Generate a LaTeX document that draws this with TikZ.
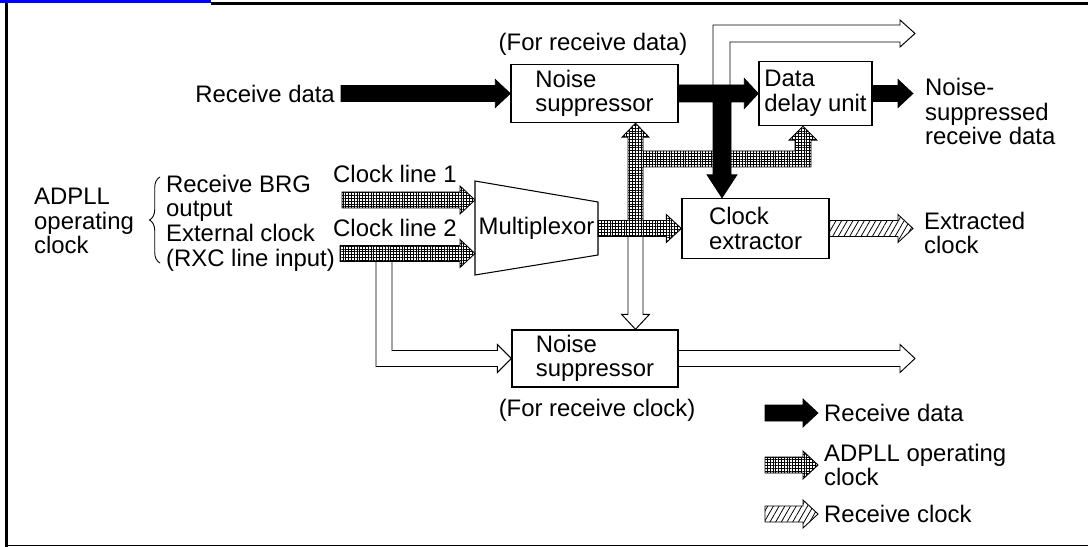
\documentclass[tikz,border=0pt]{standalone}
\usepackage{fontspec}
\setmainfont{Liberation Sans}
\usetikzlibrary{calc,patterns.meta,decorations.pathreplacing}

% right-pointing block arrow, style #1, from #2 to the tip #3
\newcommand{\blockarrow}[3]{%
  \path[#1] ($(#2 |- #3)+(0,-8)$) -- ($(#3)+(-15,-8)$) -- ($(#3)+(-15,-14)$) -- (#3)
    -- ($(#3)+(-15,14)$) -- ($(#3)+(-15,8)$) -- ($(#2 |- #3)+(0,8)$) -- cycle;}

\begin{document}
\begin{tikzpicture}[x=0.02cm, y=-0.02cm,
    font=\fontsize{13.6}{14}\selectfont,
    box/.style={draw, line width=0.8pt, align=left, inner sep=2pt},
    datafill/.style={fill=black, draw=black, line width=0.4pt},
    clkfill/.style={draw=black, line width=0.5pt, pattern={Hatch[distance=1.6pt, line width=0.5pt]}},
    rxcfill/.style={draw=black, line width=0.5pt, pattern={Lines[angle=60, distance=2.8pt, line width=0.45pt]}},
    hollow/.style={draw=black, line width=0.55pt}]
    \useasboundingbox (0,0) rectangle (1088,547);
    % frame
    \draw[blue, line width=1.7pt] (0,1.5) -- (211,1.5);
    \draw[line width=1.7pt] (211,3.3) -- (1088,3.3);
    \draw[line width=1.7pt] (6.5,3) -- (6.5,546.5);
    \draw[line width=0.9pt] (5.6,545.5) -- (1088,545.5);

    % blocks
    \node[anchor=east] (rdin) at (341,93.5) {Receive data};
    \node (fordata) at (593,44) {(For receive data)};
    \node[box, minimum width=3.34cm, minimum height=1.16cm] (nsd) at (594.5,93.5) {Noise\\suppressor};
    \node[box, minimum width=2.26cm, minimum height=1.28cm] (dd) at (815.5,93.5) {Data\\delay unit};
    \node[anchor=west, align=left] (rdoutlbl) at (919,111.5) {Noise-\\suppressed\\receive data};
    \node[box, minimum width=2.94cm, minimum height=1.2cm] (ce) at (755.5,228.5) {Clock\\extractor};
    \node[anchor=west, align=left] (exclklbl) at (918,233) {Extracted\\clock};
    \node[box, minimum width=3.32cm, minimum height=1.14cm] (nsc) at (595,358.5) {Noise\\suppressor};
    \node (forclk) at (597,410) {(For receive clock)};

    \node[anchor=west, align=left] (adpll) at (28,221) {ADPLL\\operating\\clock};
    \draw[line width=0.5pt, decorate, decoration={brace, amplitude=6pt}] (160,263) -- (160,177);
    \node[anchor=west, align=left] (srcs) at (160,223) {Receive BRG\\output\\External clock\\(RXC line input)};
    \node[anchor=west] (cl1) at (327,173.5) {Clock line 1};
    \node[anchor=west] (cl2) at (327,227.5) {Clock line 2};

    \draw[line width=0.6pt] (475,181) -- (598,202) -- (598,255) -- (475,275) -- cycle;
    \node (mux) at (536.5,228) {Multiplexor};

    % legend
    \node[anchor=west] (lgdata) at (818,413) {Receive data};
    \node[anchor=west, align=left] (lgclk) at (818,465) {ADPLL operating\\clock};
    \node[anchor=west] (lgrxc) at (818,514) {Receive clock};

    \coordinate (c1) at (342,200);
    \coordinate (c2) at (340,253.5);
    \coordinate (mi1) at (475,200);
    \coordinate (mi2) at (475,253.5);
    \coordinate (muxout) at (598,228.5);
    \coordinate (tap) at (635.5,228.5);
    \coordinate (fork) at (635.5,159);
    \coordinate (ddtap) at (803,159);
    \coordinate (tee) at (722,93.5);
    \coordinate (split) at (384,253.5);
    \coordinate (rxtop) at (915,33.5);
    \coordinate (rxout) at (915,358.5);
    \coordinate (rdout) at (913,93.5);
    \coordinate (exclk) at (913,228.5);
    \coordinate (lt1) at (765,413);
    \coordinate (lt2) at (765,466);
    \coordinate (lt3) at (765,514);

    % receive clock, hollow arrows
    \draw[hollow] ($(tee)+(-9,-8.5)$) |- ($(rxtop)+(-15,-8.5)$) -- ($(rxtop)+(-15,-13.5)$) -- (rxtop)
        -- ($(rxtop)+(-15,13.5)$) -- ($(rxtop)+(-15,8.5)$) -| ($(tee)+(8,-8.5)$);
    \draw[hollow] ($(split)+(-8,8)$) |- ($(nsc.west)+(-14,8)$) -- ($(nsc.west)+(-14,14)$) -- (nsc.west)
        -- ($(nsc.west)+(-14,-14)$) -- ($(nsc.west)+(-14,-8)$) -| ($(split)+(8,8)$);
    \draw[hollow] ($(tap)+(-7.5,8)$) -- ($(tap |- nsc.north)+(-7.5,-15)$) -- ($(tap |- nsc.north)+(-14,-15)$)
        -- (tap |- nsc.north) -- ($(tap |- nsc.north)+(14,-15)$) -- ($(tap |- nsc.north)+(7.5,-15)$) -- ($(tap)+(7.5,8)$);
    \draw[hollow] ($(nsc.east)+(0,-8)$) -- ($(rxout)+(-15,-8)$) -- ($(rxout)+(-15,-14)$) -- (rxout)
        -- ($(rxout)+(-15,14)$) -- ($(rxout)+(-15,8)$) -- ($(nsc.east)+(0,8)$);

    % receive data
    \blockarrow{datafill}{rdin.east}{nsd.west}
    \path[datafill] ($(nsd.east)+(0,-8.5)$) -- ($(dd.west)+(-14,-8.5)$) -- ($(dd.west)+(-14,-15)$) -- (dd.west)
        -- ($(dd.west)+(-14,15)$) -- ($(dd.west)+(-14,8.5)$) -- ($(tee)+(9,8.5)$)
        -- ($(tee |- ce.north)+(9,-23)$) -- ($(tee |- ce.north)+(15,-23)$) -- (tee |- ce.north)
        -- ($(tee |- ce.north)+(-15,-23)$) -- ($(tee |- ce.north)+(-9,-23)$) -- ($(tee)+(-9,8.5)$)
        -- ($(nsd.east)+(0,8.5)$) -- cycle;
    \blockarrow{datafill}{dd.east}{rdout}

    % ADPLL operating clock
    \blockarrow{clkfill}{c1}{mi1}
    \blockarrow{clkfill}{c2}{mi2}
    \path[clkfill] ($(muxout)+(0,-8)$) -- ($(tap)+(-7.5,-8)$) -- ($(tap |- nsd.south)+(-7.5,14)$)
        -- ($(tap |- nsd.south)+(-13.5,14)$) -- (tap |- nsd.south) -- ($(tap |- nsd.south)+(13.5,14)$)
        -- ($(tap |- nsd.south)+(7.5,14)$) -- ($(fork)+(7.5,-8)$) -- ($(ddtap)+(-8,-8)$)
        -- ($(ddtap |- dd.south)+(-8,14)$) -- ($(ddtap |- dd.south)+(-14,14)$) -- (ddtap |- dd.south)
        -- ($(ddtap |- dd.south)+(14,14)$) -- ($(ddtap |- dd.south)+(8,14)$) -- ($(ddtap)+(8,8)$)
        -- ($(fork)+(7.5,8)$) -- ($(tap)+(7.5,-8)$) -- ($(ce.west)+(-15,-8)$) -- ($(ce.west)+(-15,-14)$)
        -- (ce.west) -- ($(ce.west)+(-15,14)$) -- ($(ce.west)+(-15,8)$) -- ($(muxout)+(0,8)$) -- cycle;

    % extracted clock
    \blockarrow{rxcfill}{ce.east}{exclk}

    \blockarrow{datafill}{lt1}{lgdata.west}
    \blockarrow{clkfill}{lt2}{lgclk.west}
    \blockarrow{rxcfill}{lt3}{lgrxc.west}
\end{tikzpicture}
\end{document}
